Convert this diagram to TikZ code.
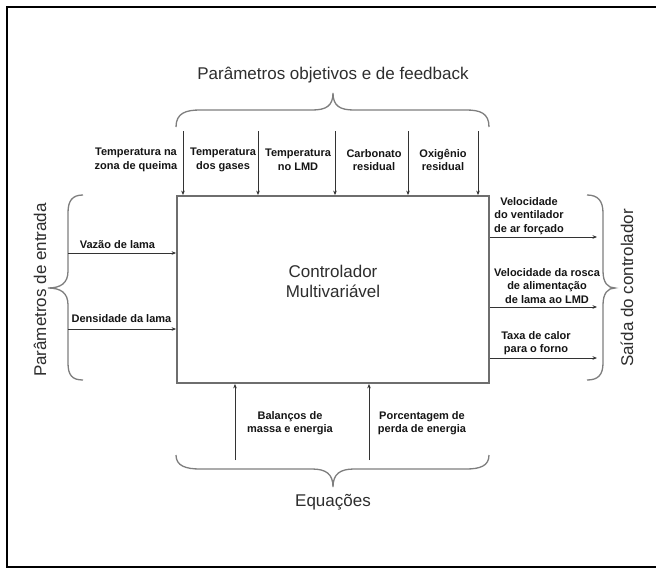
\documentclass[tikz,border=0pt]{standalone}
\usepackage{fontspec}
\setmainfont{Liberation Sans}
\usetikzlibrary{arrows.meta}
\definecolor{boxgray}{HTML}{6E6E6E}
\definecolor{bracegray}{HTML}{7E7E7E}
\definecolor{arrgray}{HTML}{333333}
\definecolor{bigtext}{HTML}{2E2E2E}
\definecolor{smalltext}{HTML}{151515}
\tikzset{
  x=1pt, y=-1pt,
  frameline/.style={draw=black, line width=1.4pt},
  ctrlbox/.style={draw=boxgray, line width=1.8pt, minimum width=312pt, minimum height=187pt, inner sep=0pt},
  arr/.style={draw=arrgray, line width=0.8pt, -{Stealth[length=4.5pt,width=3.6pt]}},
  bracepath/.style={draw=bracegray, line width=1.3pt},
  small/.style={font=\bfseries\fontsize{11}{13.5}\selectfont, text=smalltext, align=center, inner sep=0pt},
  big/.style={font=\fontsize{17}{20}\selectfont, text=bigtext, align=center, inner sep=0pt},
}
\begin{document}
\begin{tikzpicture}
\useasboundingbox (0,0) rectangle (656,573);
\fill[white] (0,0) rectangle (656,573);
% outer frame
\draw[frameline] (657,7) -- (7,7) -- (7,567) -- (657,567);

% main box
\node[ctrlbox] (box) at (333,289.5) {};
\node[big] (ctext) at (333,281) {Controlador\\Multivariável};

% titles
\node[big] (ttop) at (333,75) {Parâmetros objetivos e de feedback};
\node[big] (tbot) at (333,502) {Equações};
\node[big, rotate=90] (tleft) at (40,290) {Parâmetros de entrada};
\node[big, rotate=90] (tright) at (627,288) {Saída do controlador};

% braces
\draw[bracepath] (176,127) .. controls (176,113) and (186,110) .. (200,110) -- (312,110)
  .. controls (326,110) and (333,106) .. (333,93) .. controls (333,106) and (340,110) .. (354,110)
  -- (466,110) .. controls (480,110) and (489,113) .. (489,127);
\draw[bracepath] (176,455) .. controls (176,466) and (186,469) .. (200,469) -- (312,469)
  .. controls (326,469) and (333,474) .. (333,487) .. controls (333,474) and (340,469) .. (354,469)
  -- (466,469) .. controls (480,469) and (489,466) .. (489,455);
\draw[bracepath] (83,195) .. controls (72,195) and (68,201) .. (68,213) -- (68,271)
  .. controls (68,283) and (61,288) .. (48,288) .. controls (61,288) and (68,293) .. (68,305)
  -- (68,363) .. controls (68,375) and (72,380) .. (83,380);
\draw[bracepath] (587,195) .. controls (598,195) and (603,201) .. (603,213) -- (603,271)
  .. controls (603,283) and (608,288) .. (615,288) .. controls (608,288) and (603,293) .. (603,305)
  -- (603,363) .. controls (603,375) and (598,380) .. (587,380);

% top inputs
\coordinate (t1) at (183,131);
\coordinate (t2) at (258,131);
\coordinate (t3) at (335,131);
\coordinate (t4) at (408,131);
\coordinate (t5) at (478,131);
\foreach \c in {t1,t2,t3,t4,t5} \draw[arr] (\c) -- (\c |- box.north);
\node[small] (lt1) at (136,160) {Temperatura na\\zona de queima};
\node[small] (lt2) at (223,160) {Temperatura\\dos gases};
\node[small] (lt3) at (298,160) {Temperatura\\no LMD};
\node[small] (lt4) at (374,160) {Carbonato\\residual};
\node[small] (lt5) at (443,160) {Oxigênio\\residual};

% left inputs
\coordinate (l1) at (68,253);
\coordinate (l2) at (68,329);
\draw[arr] (l1) -- (l1 -| box.west);
\draw[arr] (l2) -- (l2 -| box.west);
\node[small] (ll1) at (117.5,245) {Vazão de lama};
\node[small] (ll2) at (121.5,319) {Densidade da lama};

% right outputs
\coordinate (r1) at (597,237);
\coordinate (r2) at (597,307);
\coordinate (r3) at (597,358);
\draw[arr] (r1 -| box.east) -- (r1);
\draw[arr] (r2 -| box.east) -- (r2);
\draw[arr] (r3 -| box.east) -- (r3);
\node[small] (lr1) at (529,216) {Velocidade\\do ventilador\\de ar forçado};
\node[small] (lr2) at (547,286) {Velocidade da rosca\\de alimentação\\de lama ao LMD};
\node[small] (lr3) at (536,343) {Taxa de calor\\para o forno};

% bottom inputs
\coordinate (b1) at (235,460);
\coordinate (b2) at (369,460);
\draw[arr] (b1) -- (b1 |- box.south);
\draw[arr] (b2) -- (b2 |- box.south);
\node[small] (lb1) at (290,423) {Balanços de\\massa e energia};
\node[small] (lb2) at (422,423) {Porcentagem de\\perda de energia};
\end{tikzpicture}
\end{document}
